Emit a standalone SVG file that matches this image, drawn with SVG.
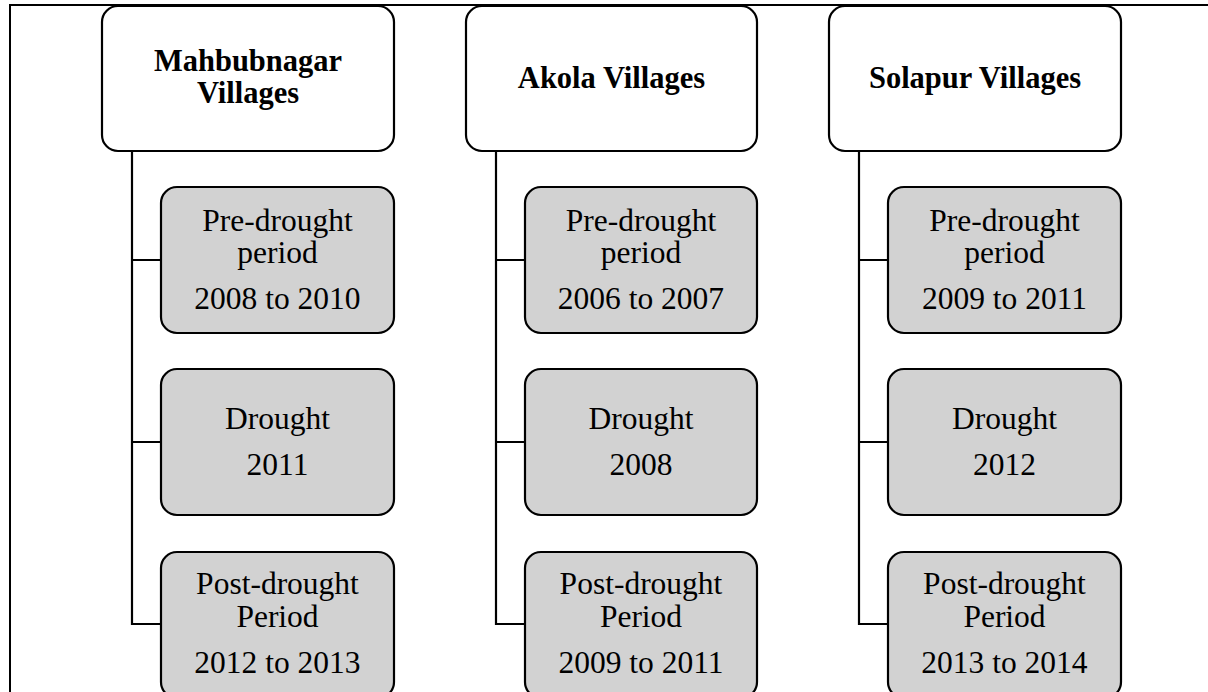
<svg xmlns="http://www.w3.org/2000/svg" width="1208" height="692" viewBox="0 0 1208 692">
<style>
.frame{fill:none;stroke:#000;stroke-width:2}
.hdr{fill:#fff;stroke:#000;stroke-width:2.2}
.chd{fill:#d2d2d2;stroke:#000;stroke-width:2.2}
.conn{fill:none;stroke:#000;stroke-width:2.2}
.ht{font-family:"Liberation Serif","Times New Roman",serif;font-weight:bold;font-size:30.5px;fill:#000;text-anchor:middle}
.ct{font-family:"Liberation Serif","Times New Roman",serif;font-size:31.5px;fill:#000;text-anchor:middle}
</style>
<rect width="1208" height="692" fill="#fff"/>
<path class="frame" d="M10,692 V5 H1208"/>
<g id="connectors">
<path class="conn" d="M132,151 V624 H161 M132,260 H161 M132,442 H161"/>
<path class="conn" d="M496,151 V624 H525 M496,260 H525 M496,442 H525"/>
<path class="conn" d="M859,151 V624 H888 M859,260 H888 M859,442 H888"/>
</g>
<g id="mahbubnagar">
<rect class="hdr" x="102" y="6" width="292" height="145" rx="16"/>
<text class="ht" x="248" y="71">Mahbubnagar</text>
<text class="ht" x="248" y="103">Villages</text>
</g>
<g id="m-pre">
<rect class="chd" x="161" y="187" width="233" height="146" rx="16"/>
<text class="ct" x="277.5" y="231">Pre-drought</text>
<text class="ct" x="277.5" y="263">period</text>
<text class="ct" x="277.5" y="309">2008 to 2010</text>
</g>
<g id="m-drought">
<rect class="chd" x="161" y="369" width="233" height="146" rx="16"/>
<text class="ct" x="277.5" y="429">Drought</text>
<text class="ct" x="277.5" y="475">2011</text>
</g>
<g id="m-post">
<rect class="chd" x="161" y="552" width="233" height="146" rx="16"/>
<text class="ct" x="277.5" y="594">Post-drought</text>
<text class="ct" x="277.5" y="627">Period</text>
<text class="ct" x="277.5" y="673">2012 to 2013</text>
</g>
<g id="akola">
<rect class="hdr" x="466" y="6" width="291" height="145" rx="16"/>
<text class="ht" x="611.5" y="88">Akola Villages</text>
</g>
<g id="a-pre">
<rect class="chd" x="525" y="187" width="232" height="146" rx="16"/>
<text class="ct" x="641" y="231">Pre-drought</text>
<text class="ct" x="641" y="263">period</text>
<text class="ct" x="641" y="309">2006 to 2007</text>
</g>
<g id="a-drought">
<rect class="chd" x="525" y="369" width="232" height="146" rx="16"/>
<text class="ct" x="641" y="429">Drought</text>
<text class="ct" x="641" y="475">2008</text>
</g>
<g id="a-post">
<rect class="chd" x="525" y="552" width="232" height="146" rx="16"/>
<text class="ct" x="641" y="594">Post-drought</text>
<text class="ct" x="641" y="627">Period</text>
<text class="ct" x="641" y="673">2009 to 2011</text>
</g>
<g id="solapur">
<rect class="hdr" x="829" y="6" width="292" height="145" rx="16"/>
<text class="ht" x="975" y="88">Solapur Villages</text>
</g>
<g id="s-pre">
<rect class="chd" x="888" y="187" width="233" height="146" rx="16"/>
<text class="ct" x="1004.5" y="231">Pre-drought</text>
<text class="ct" x="1004.5" y="263">period</text>
<text class="ct" x="1004.5" y="309">2009 to 2011</text>
</g>
<g id="s-drought">
<rect class="chd" x="888" y="369" width="233" height="146" rx="16"/>
<text class="ct" x="1004.5" y="429">Drought</text>
<text class="ct" x="1004.5" y="475">2012</text>
</g>
<g id="s-post">
<rect class="chd" x="888" y="552" width="233" height="146" rx="16"/>
<text class="ct" x="1004.5" y="594">Post-drought</text>
<text class="ct" x="1004.5" y="627">Period</text>
<text class="ct" x="1004.5" y="673">2013 to 2014</text>
</g>
</svg>
